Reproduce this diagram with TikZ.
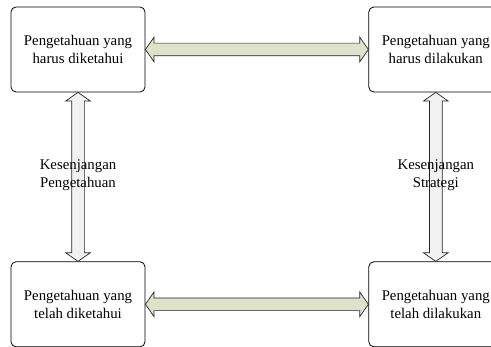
\documentclass[tikz,border=0pt]{standalone}
\usepackage{fontspec}
\setmainfont{Liberation Serif}
\usetikzlibrary{positioning, shapes.arrows}
\definecolor{olivefill}{RGB}{221,226,203}
\definecolor{greyfill}{RGB}{242,242,242}
\tikzset{
box/.style={draw, rounded corners=5pt, line width=0.8pt, minimum width=134pt, minimum height=85pt, align=center, font=\fontsize{14.8}{18}\selectfont}, % the four knowledge boxes
link/.style={double arrow, draw=black!85, line width=0.7pt, inner sep=0pt, inner ysep=6pt, double arrow head extend=6pt, double arrow tip angle=110}, % thick two-headed arrows between boxes
gap/.style={align=center, font=\fontsize{14.8}{18}\selectfont}, % text over the vertical arrows
}
\begin{document}
\begin{tikzpicture}
                \useasboundingbox (0,0) rectangle (491pt,-347pt);
                \clip (0,0) rectangle (491pt,-347pt);

                \node[box] (tl) at (78pt,-49.5pt) {Pengetahuan yang\\harus diketahui};
                \node[box, right=223pt of tl] (tr) {Pengetahuan yang\\harus dilakukan};
                \node[box, below=169pt of tl] (bl) {Pengetahuan yang\\telah diketahui};
                \node[box, below=169pt of tr] (br) {Pengetahuan yang\\telah dilakukan};

                \path
                    (tl) -- (tr) node[midway, link, fill=olivefill, minimum height=223pt] (top) {}
                    (bl) -- (br) node[midway, link, fill=olivefill, minimum height=223pt] (bottom) {}
                    (tl) -- (bl) node[midway, link, fill=greyfill, rotate=90, minimum height=169pt] (left) {}
                    (tr) -- (br) node[midway, link, fill=greyfill, rotate=90, minimum height=169pt] (right) {}
                    ;

                \node[gap, yshift=2pt] at (left) {Kesenjangan\\Pengetahuan};
                \node[gap, yshift=2pt] at (right) {Kesenjangan\\Strategi};
                \end{tikzpicture}
\end{document}
